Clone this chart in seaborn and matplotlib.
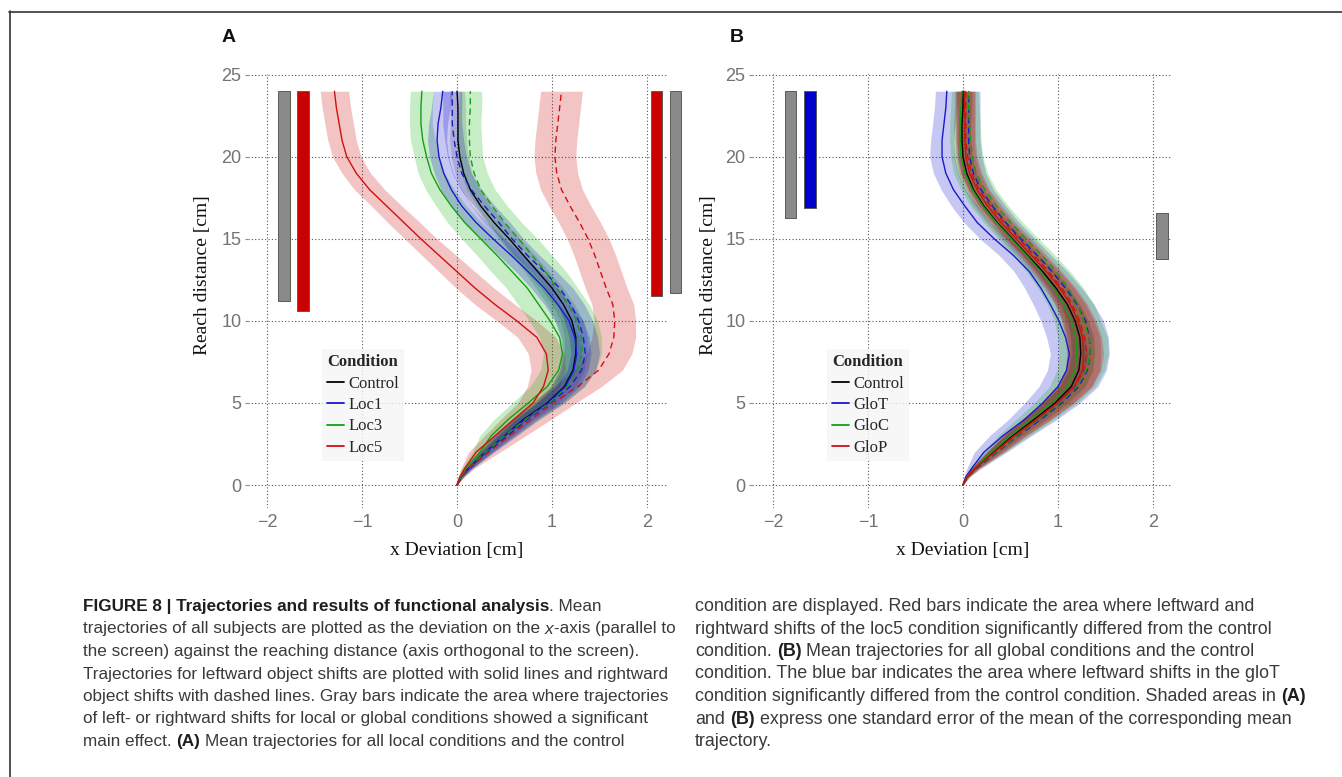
import numpy as np
import pandas as pd
import seaborn as sns
import matplotlib.pyplot as plt
from matplotlib.lines import Line2D
from matplotlib import font_manager
from matplotlib.font_manager import FontProperties

W, H = 1342, 777

# reach distance levels (cm) at which the mean trajectories were read
Y_LEVELS = [0, 0.5, 1, 2, 3, 4, 5, 6, 7, 8, 9, 10, 11, 12, 13,
            14, 15, 16, 17, 18, 19, 20, 21, 22, 23, 24]

# panel A: local conditions, x deviation (cm)
a_control = [0, 0.04, 0.12, 0.30, 0.50, 0.70, 0.95, 1.13, 1.22, 1.25, 1.25, 1.21, 1.12,
             1.00, 0.85, 0.70, 0.55, 0.39, 0.25, 0.14, 0.07, 0.03, 0.01, 0.01, 0.01, 0.00]
a_loc1_left = [0, 0.04, 0.12, 0.30, 0.50, 0.71, 0.96, 1.14, 1.23, 1.26, 1.24, 1.18, 1.06,
               0.92, 0.75, 0.57, 0.38, 0.20, 0.05, -0.06, -0.14, -0.19, -0.21, -0.20, -0.17, -0.15]
a_loc1_right = [0, 0.05, 0.13, 0.32, 0.53, 0.74, 0.98, 1.19, 1.31, 1.35, 1.33, 1.28, 1.20,
                1.08, 0.92, 0.74, 0.58, 0.44, 0.29, 0.15, 0.05, 0.00, -0.03, -0.05, -0.05, -0.05]
a_loc3_left = [0, 0.04, 0.09, 0.24, 0.36, 0.54, 0.75, 0.95, 1.07, 1.11, 1.08, 0.98, 0.86,
               0.74, 0.58, 0.42, 0.25, 0.08, -0.06, -0.18, -0.27, -0.32, -0.36, -0.38, -0.38, -0.37]
a_loc3_right = [0, 0.05, 0.12, 0.30, 0.50, 0.72, 0.97, 1.16, 1.27, 1.32, 1.31, 1.26, 1.17,
                1.05, 0.93, 0.79, 0.65, 0.50, 0.37, 0.25, 0.18, 0.14, 0.13, 0.13, 0.14, 0.14]
a_loc5_left = [0, 0.03, 0.08, 0.20, 0.40, 0.60, 0.80, 0.91, 0.96, 0.94, 0.84, 0.63, 0.40,
               0.19, 0.00, -0.19, -0.38, -0.56, -0.74, -0.92, -1.06, -1.16, -1.21, -1.24, -1.27, -1.29]
a_loc5_right = [0, 0.05, 0.12, 0.33, 0.55, 0.78, 1.01, 1.27, 1.49, 1.60, 1.65, 1.66, 1.64,
                1.57, 1.51, 1.45, 1.38, 1.29, 1.19, 1.10, 1.05, 1.03, 1.04, 1.06, 1.08, 1.10]

# panel A: standard error half widths (cm)
se_a_control = [0, 0.01, 0.03, 0.06, 0.08, 0.10, 0.11, 0.12, 0.12, 0.12, 0.12, 0.12, 0.12,
                0.12, 0.12, 0.12, 0.11, 0.11, 0.10, 0.10, 0.09, 0.09, 0.09, 0.08, 0.08, 0.08]
se_a_loc1 = [0, 0.02, 0.03, 0.07, 0.10, 0.12, 0.14, 0.15, 0.15, 0.15, 0.15, 0.15, 0.14,
             0.14, 0.13, 0.13, 0.12, 0.12, 0.11, 0.11, 0.10, 0.10, 0.10, 0.10, 0.10, 0.10]
se_a_loc3 = [0, 0.02, 0.04, 0.08, 0.12, 0.15, 0.17, 0.18, 0.19, 0.20, 0.21, 0.22, 0.22,
             0.22, 0.22, 0.21, 0.20, 0.18, 0.16, 0.15, 0.14, 0.13, 0.13, 0.12, 0.12, 0.12]
se_a_loc5_left = [0, 0.02, 0.04, 0.08, 0.11, 0.14, 0.16, 0.17, 0.18, 0.19, 0.20, 0.21, 0.21,
                  0.20, 0.19, 0.18, 0.17, 0.17, 0.16, 0.16, 0.15, 0.15, 0.15, 0.15, 0.15, 0.15]
se_a_loc5_right = [0, 0.03, 0.06, 0.12, 0.17, 0.21, 0.24, 0.25, 0.25, 0.24, 0.23, 0.22, 0.22,
                   0.22, 0.22, 0.22, 0.22, 0.22, 0.22, 0.22, 0.22, 0.22, 0.22, 0.22, 0.22, 0.22]

# panel B: global conditions, x deviation (cm)
b_control = [0, 0.04, 0.12, 0.32, 0.52, 0.75, 0.97, 1.14, 1.22, 1.24, 1.23, 1.18, 1.10,
             0.98, 0.84, 0.68, 0.52, 0.36, 0.22, 0.11, 0.04, 0.00, -0.01, -0.01, 0.00, 0.00]
b_glot_left = [0, 0.03, 0.09, 0.22, 0.42, 0.65, 0.84, 1.00, 1.09, 1.12, 1.08, 1.01, 0.92,
               0.82, 0.70, 0.53, 0.33, 0.15, 0.02, -0.10, -0.18, -0.22, -0.22, -0.20, -0.18, -0.17]
b_glot_right = [0, 0.05, 0.14, 0.36, 0.58, 0.82, 1.04, 1.22, 1.31, 1.34, 1.33, 1.29, 1.20,
                1.08, 0.94, 0.78, 0.61, 0.45, 0.31, 0.19, 0.11, 0.07, 0.06, 0.06, 0.06, 0.06]
b_gloc_left = [0, 0.04, 0.11, 0.30, 0.50, 0.72, 0.93, 1.10, 1.18, 1.20, 1.19, 1.14, 1.06,
               0.95, 0.82, 0.67, 0.51, 0.35, 0.21, 0.10, 0.02, -0.02, -0.03, -0.03, -0.02, -0.01]
b_gloc_right = [0, 0.05, 0.13, 0.35, 0.57, 0.80, 1.02, 1.20, 1.30, 1.34, 1.33, 1.27, 1.21,
                1.11, 0.98, 0.83, 0.66, 0.50, 0.35, 0.23, 0.14, 0.10, 0.08, 0.07, 0.06, 0.05]
b_glop_left = [0, 0.04, 0.12, 0.33, 0.54, 0.77, 0.99, 1.17, 1.26, 1.27, 1.26, 1.21, 1.13,
               1.02, 0.88, 0.72, 0.56, 0.40, 0.26, 0.15, 0.07, 0.03, 0.02, 0.02, 0.02, 0.02]
b_glop_right = [0, 0.05, 0.13, 0.34, 0.55, 0.78, 1.00, 1.18, 1.27, 1.30, 1.28, 1.23, 1.15,
                1.04, 0.90, 0.75, 0.59, 0.43, 0.29, 0.17, 0.09, 0.05, 0.03, 0.03, 0.03, 0.03]

se_b_control = [0, 0.01, 0.03, 0.07, 0.10, 0.12, 0.13, 0.14, 0.14, 0.14, 0.14, 0.14, 0.13,
                0.13, 0.13, 0.12, 0.12, 0.11, 0.11, 0.10, 0.10, 0.10, 0.09, 0.09, 0.09, 0.09]
se_b_glot = [0, 0.02, 0.05, 0.10, 0.14, 0.17, 0.19, 0.20, 0.20, 0.20, 0.20, 0.19, 0.18,
             0.17, 0.16, 0.15, 0.15, 0.14, 0.14, 0.13, 0.13, 0.13, 0.12, 0.12, 0.12, 0.12]
se_b_gloc = [0, 0.02, 0.04, 0.09, 0.13, 0.16, 0.18, 0.19, 0.19, 0.19, 0.19, 0.18, 0.17,
             0.16, 0.15, 0.14, 0.14, 0.13, 0.13, 0.12, 0.12, 0.11, 0.11, 0.11, 0.11, 0.11]
se_b_glop = [0, 0.02, 0.04, 0.09, 0.12, 0.15, 0.17, 0.18, 0.18, 0.18, 0.18, 0.17, 0.16,
             0.15, 0.14, 0.13, 0.13, 0.12, 0.12, 0.11, 0.11, 0.10, 0.10, 0.10, 0.10, 0.10]

# significance bars: x centre, bottom, top (cm), colour
bars_a_x = [-1.82, -1.62, 2.10, 2.30]
bars_a_bottom = [11.2, 10.6, 11.5, 11.7]
bars_a_top = [24, 24, 24, 24]
bars_a_color = ['#8a8a8a', '#cc0000', '#cc0000', '#8a8a8a']
bars_b_x = [-1.815, -1.61, 2.095]
bars_b_bottom = [16.3, 16.9, 13.75]
bars_b_top = [24, 24, 16.6]
bars_b_color = ['#8a8a8a', '#0000cc', '#8a8a8a']

conds_a = ['Control', 'Loc1', 'Loc3', 'Loc5']
conds_b = ['Control', 'GloT', 'GloC', 'GloP']
line_colors = ['#000000', '#1a1ac8', '#12a012', '#d01010']
fill_colors = ['#000000', '#0000cc', '#00b000', '#cc0000']
fill_alpha = [0.14, 0.22, 0.22, 0.23]

curves = [
    ('A', 'Control', 'left', a_control, se_a_control),
    ('A', 'Loc5', 'left', a_loc5_left, se_a_loc5_left),
    ('A', 'Loc5', 'right', a_loc5_right, se_a_loc5_right),
    ('A', 'Loc3', 'left', a_loc3_left, se_a_loc3),
    ('A', 'Loc3', 'right', a_loc3_right, se_a_loc3),
    ('A', 'Loc1', 'left', a_loc1_left, se_a_loc1),
    ('A', 'Loc1', 'right', a_loc1_right, se_a_loc1),
    ('B', 'Control', 'left', b_control, se_b_control),
    ('B', 'GloT', 'left', b_glot_left, se_b_glot),
    ('B', 'GloT', 'right', b_glot_right, se_b_glot),
    ('B', 'GloC', 'left', b_gloc_left, se_b_gloc),
    ('B', 'GloC', 'right', b_gloc_right, se_b_gloc),
    ('B', 'GloP', 'left', b_glop_left, se_b_glop),
    ('B', 'GloP', 'right', b_glop_right, se_b_glop),
]

rows = []
for panel, cond, shift, xs, se in curves:
    for y, x, s in zip(Y_LEVELS, xs, se):
        rows.append({'panel': panel, 'cond': cond, 'shift': shift, 'x': x, 'y': y, 'se': s})
df = pd.DataFrame(rows)

sns.set_theme(style='white')
names = {f.name for f in font_manager.fontManager.ttflist}
if 'Liberation Sans Narrow' in names:
    cap_font, cap_left_size, cap_right_size = 'Liberation Sans Narrow', 15.0, 15.6
else:
    cap_font, cap_left_size, cap_right_size = 'Liberation Sans', 12.35, 12.9
plt.rcParams['font.family'] = ['Liberation Sans', 'DejaVu Sans']
plt.rcParams['axes.unicode_minus'] = True

fig = plt.figure(figsize=(W / 100, H / 100), dpi=100)
fig.patch.set_facecolor('white')

serif = 'Liberation Serif'


def px_rect(left, top, right, bottom):
    return [left / W, 1 - bottom / H, (right - left) / W, (bottom - top) / H]


panels = [
    ('A', conds_a, px_rect(248, 74, 667, 508), (-2.2, 2.21),
     bars_a_x, bars_a_bottom, bars_a_top, bars_a_color, 457, 203, 322, 229),
    ('B', conds_b, px_rect(752, 74, 1172, 508), (-2.22, 2.2),
     bars_b_x, bars_b_bottom, bars_b_top, bars_b_color, 963, 708, 827, 737),
]

for (panel, conds, rect, xlim, bx, bbot, btop, bcol,
     x0_px, ylab_px, leg_px, tag_px) in panels:
    ax = fig.add_axes(rect)
    d = df[df.panel == panel]
    fills = dict(zip(conds, zip(fill_colors, fill_alpha)))
    pal = dict(zip(conds, line_colors))

    # shaded standard error ribbons
    for (cond, shift), g in d.groupby(['cond', 'shift'], sort=False):
        col, alpha = fills[cond]
        ax.fill_betweenx(g.y, g.x - g.se, g.x + g.se, color=col,
                         alpha=alpha, lw=0, zorder=1)

    # mean trajectories
    sns.lineplot(data=d, x='x', y='y', hue='cond', style='shift', orient='y',
                 estimator=None, sort=True, palette=pal, hue_order=conds,
                 dashes={'left': '', 'right': (4.5, 3)}, linewidth=1.0,
                 legend=False, ax=ax, zorder=3)

    # significance bars
    heights = [t - b for t, b in zip(btop, bbot)]
    ax.bar(bx, heights, bottom=bbot, width=0.12, color=bcol,
           edgecolor='#5a5a5a', linewidth=0.7, clip_on=False, zorder=2)

    ax.set_xlim(*xlim)
    ax.set_ylim(-1.4, 25.05)
    ax.set_xticks([-2, -1, 0, 1, 2])
    ax.set_xticklabels(['\u22122', '\u22121', '0', '1', '2'])
    ax.set_yticks([0, 5, 10, 15, 20, 25])
    ax.grid(True, color='#555555', linestyle=(0, (1, 2)), linewidth=0.8)
    ax.set_axisbelow(True)
    for s in ax.spines.values():
        s.set_visible(False)
    ax.tick_params(axis='y', length=2.5, width=0.8, color='#888888',
                   labelcolor='#737373', labelsize=13, pad=2.2, left=True)
    ax.tick_params(axis='x', length=0, labelcolor='#737373', labelsize=13, pad=4)
    ax.set_xlabel('')
    ax.set_ylabel('')

    fig.text(ylab_px / W, 1 - 275 / H, 'Reach distance [cm]', rotation=90,
             ha='center', va='center', family=serif, fontsize=14, color='#111111')
    fig.text(x0_px / W, 1 - 551 / H, 'x Deviation [cm]', ha='center', va='center',
             family=serif, fontsize=14, color='#111111')
    fig.text(tag_px / W, 1 - 38 / H, panel, ha='center', va='center',
             fontsize=14, fontweight='bold', color='#111111')

    handles = [Line2D([], [], color=c, lw=1.3) for c in line_colors]
    leg = ax.legend(handles, conds, title='Condition', loc='upper left',
                    bbox_to_anchor=(leg_px / W, 1 - 349 / H),
                    bbox_transform=fig.transFigure, frameon=True, fancybox=False,
                    facecolor='#f6f6f6', edgecolor='none',
                    prop={'family': serif, 'size': 12},
                    title_fontproperties={'family': serif, 'weight': 'bold', 'size': 12},
                    alignment='left', handlelength=1.0, handletextpad=0.3,
                    labelspacing=0.33, borderpad=0.3, borderaxespad=0)
    leg.set_zorder(5)

# outer frame of the figure box
fig.add_artist(Line2D([9 / W, 1], [1 - 11.5 / H, 1 - 11.5 / H], color='#333333', lw=1.2))
fig.add_artist(Line2D([9.5 / W, 9.5 / W], [0, 1 - 11 / H], color='#333333', lw=1.2))

# caption in two columns
cap_left = [
    [('FIGURE 8 | Trajectories and results of functional analysis', 'bold', 'normal'),
     ('. Mean', 'normal', 'normal')],
    [('trajectories of all subjects are plotted as the deviation on the ', 'normal', 'normal'),
     ('x', 'normal', 'italic'), ('-axis (parallel to', 'normal', 'normal')],
    [('the screen) against the reaching distance (axis orthogonal to the screen).', 'normal', 'normal')],
    [('Trajectories for leftward object shifts are plotted with solid lines and rightward', 'normal', 'normal')],
    [('object shifts with dashed lines. Gray bars indicate the area where trajectories', 'normal', 'normal')],
    [('of left- or rightward shifts for local or global conditions showed a significant', 'normal', 'normal')],
    [('main effect. ', 'normal', 'normal'), ('(A)', 'bold', 'normal'),
     (' Mean trajectories for all local conditions and the control', 'normal', 'normal')],
]
cap_right = [
    [('condition are displayed. Red bars indicate the area where leftward and', 'normal', 'normal')],
    [('rightward shifts of the loc5 condition significantly differed from the control', 'normal', 'normal')],
    [('condition. ', 'normal', 'normal'), ('(B)', 'bold', 'normal'),
     (' Mean trajectories for all global conditions and the control', 'normal', 'normal')],
    [('condition. The blue bar indicates the area where leftward shifts in the gloT', 'normal', 'normal')],
    [('condition significantly differed from the control condition. Shaded areas in ', 'normal', 'normal'),
     ('(A)', 'bold', 'normal')],
    [('and ', 'normal', 'normal'), ('(B)', 'bold', 'normal'),
     (' express one standard error of the mean of the corresponding mean', 'normal', 'normal')],
    [('trajectory.', 'normal', 'normal')],
]

renderer = fig.canvas.get_renderer()


def text_width(s, fp):
    w1 = renderer.get_text_width_height_descent('|' + s + '|', fp, ismath=False)[0]
    w0 = renderer.get_text_width_height_descent('||', fp, ismath=False)[0]
    return w1 - w0


def caption_line(x_px, base_px, segments, size):
    x = x_px
    for text, weight, style in segments:
        fp = FontProperties(family=cap_font, weight=weight, style=style, size=size)
        stripped = text.strip(' ')
        lead = len(text) - len(text.lstrip(' '))
        trail = len(text) - len(text.rstrip(' '))
        sp = text_width(' ', fp)
        x += lead * sp
        color = '#1e1e1e' if weight == 'bold' else '#3a3a3a'
        fig.text(x / W, 1 - base_px / H, stripped, fontproperties=fp,
                 color=color, ha='left', va='baseline')
        x += text_width(stripped, fp) + trail * sp


for i, seg in enumerate(cap_left):
    caption_line(83, 611 + 22.5 * i, seg, cap_left_size)
for i, seg in enumerate(cap_right):
    caption_line(695, 611 + 22.5 * i, seg, cap_right_size)

fig.savefig('out.png', dpi=100, facecolor='white')
